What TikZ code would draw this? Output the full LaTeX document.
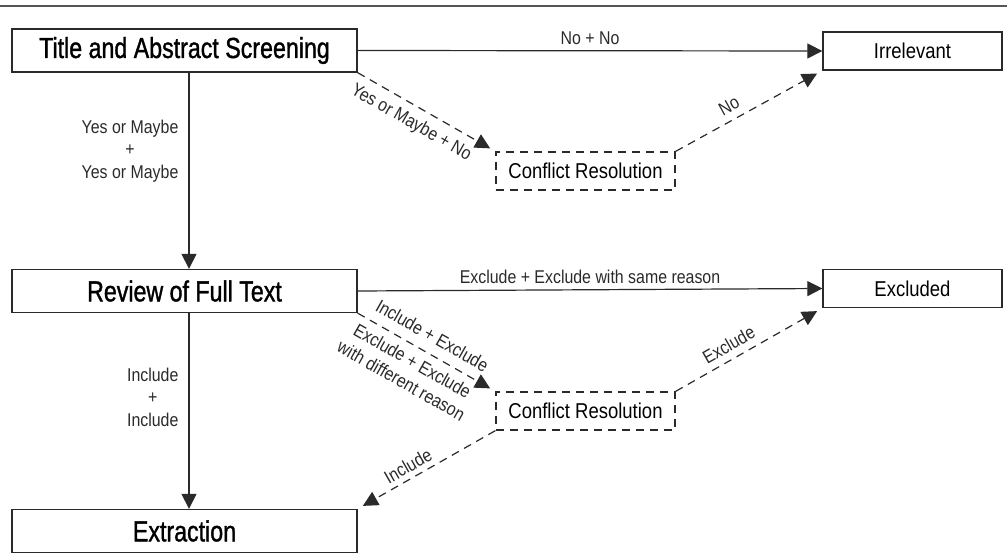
\documentclass[tikz,border=0pt]{standalone}
\usepackage{fontspec}
\setmainfont[FakeStretch=0.86]{Liberation Sans}
\newfontfamily\boxbold[FakeStretch=0.8,FakeBold=1.2]{Liberation Sans}
\usetikzlibrary{arrows.meta}
\definecolor{ink}{HTML}{2A2A2A}
\begin{document}
\begin{tikzpicture}[x=1pt,y=-1pt,
  box/.style={draw=ink,line width=1.3pt,inner sep=0pt,text=black},
  bigbox/.style={box,minimum width=345pt,minimum height=43pt,font=\boxbold\fontsize{29}{32}\selectfont},
  smallbox/.style={box,minimum width=179pt,minimum height=38pt,font=\fontsize{21.5}{24}\selectfont},
  crbox/.style={smallbox,dash pattern=on 8pt off 6pt},
  arr/.style={draw=ink,line width=1.2pt,-{Triangle[length=15pt,width=15pt]}},
  darr/.style={arr,dash pattern=on 8pt off 6pt,shorten >=6pt},
  lbl/.style={font=\fontsize{18.5}{22.5}\selectfont,text=ink,inner sep=2pt}]
\useasboundingbox (0,0) rectangle (1007,554);
\draw[draw=ink!80,line width=1.8pt] (0,6) -- (1007,6);
\node[bigbox] (title) at (184.5,50.5) {Title and Abstract Screening};
\node[bigbox] (review) at (184.5,291) {Review of Full Text};
\node[bigbox] (extract) at (184.5,531) {Extraction};
\node[smallbox] (irr) at (912.5,51) {Irrelevant};
\node[smallbox] (excl) at (912.5,288.5) {Excluded};
\node[crbox] (cr1) at (585.5,171) {Conflict Resolution};
\node[crbox] (cr2) at (585.5,411) {Conflict Resolution};
\coordinate (t1) at ([xshift=4.5pt]title.south);
\coordinate (r1) at ([xshift=4.5pt]review.north);
\coordinate (r2) at ([xshift=4.5pt]review.south);
\coordinate (e1) at ([xshift=4.5pt]extract.north);
\draw[arr] (title.east) -- node[lbl,above=3pt,midway] {No + No} (irr.west);
\draw[arr] (t1) -- node[lbl,left=8pt,pos=0.4,align=center] {Yes or Maybe\\+\\Yes or Maybe} (r1);
\draw[darr] (title.south east) -- node[lbl,below=6pt,sloped,pos=0.45] {Yes or Maybe + No} (cr1.north west);
\draw[darr] (cr1.north east) -- node[lbl,above=5pt,sloped,pos=0.41] {No} (irr.south west);
\draw[arr] (review.east) -- node[lbl,above=3pt,midway] {Exclude + Exclude with same reason} (excl.west);
\draw[arr] (r2) -- node[lbl,left=8pt,pos=0.43,align=center] {Include\\+\\Include} (e1);
\draw[darr] (review.south east) -- node[lbl,above=8pt,sloped,pos=0.48] {Include + Exclude}
  node[lbl,below=5pt,sloped,pos=0.45,align=center] {Exclude + Exclude\\with different reason} (cr2.north west);
\draw[darr] (cr2.north east) -- node[lbl,above=5pt,sloped,pos=0.41] {Exclude} (excl.south west);
\draw[darr] (cr2.south west) -- node[lbl,above=3pt,sloped,pos=0.59] {Include} (extract.north east);
\end{tikzpicture}
\end{document}
